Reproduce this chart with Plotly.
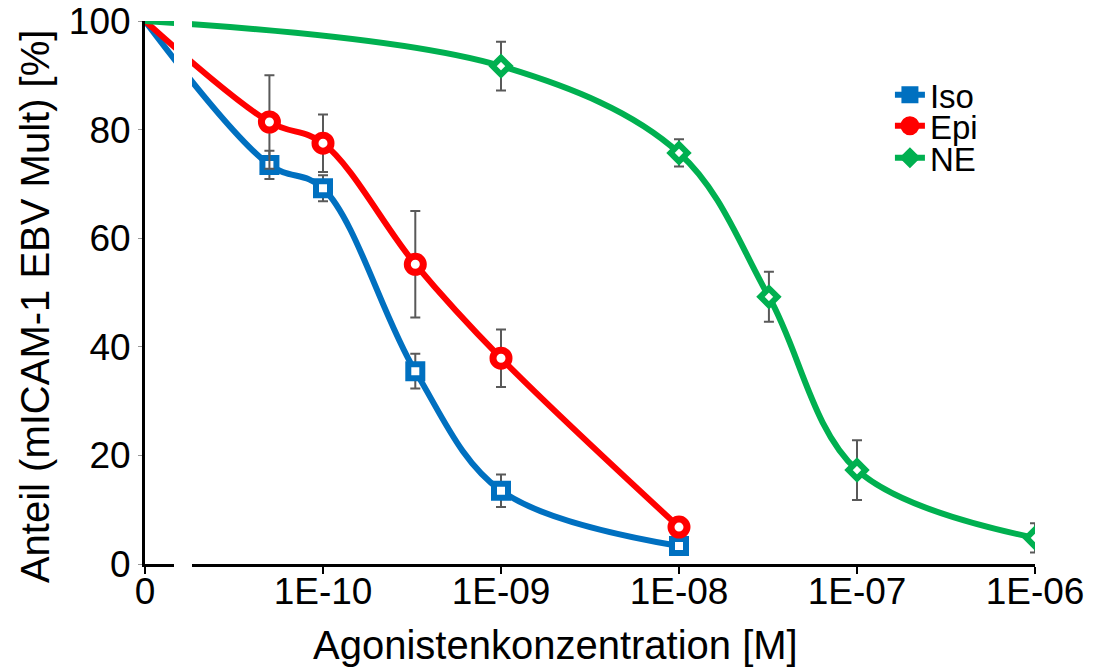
import plotly.graph_objects as go

# x = 1e-11 stands in for the "0" concentration (axis break)
iso_x = [1e-11, 5e-11, 1e-10, 3.3e-10, 1e-9, 1e-8]
iso_y = [100, 73.5, 69.2, 35.5, 13.5, 3.3]
iso_err = [0, 2.6, 2.4, 3.2, 3.0, 0.8]

epi_x = [1e-11, 5e-11, 1e-10, 3.3e-10, 1e-9, 1e-8]
epi_y = [100, 81.4, 77.5, 55.2, 37.9, 6.8]
epi_err = [0, 8.6, 5.3, 9.8, 5.3, 0.8]

ne_x = [1e-11, 1e-9, 1e-8, 3.2e-8, 1e-7, 1e-6]
ne_y = [100, 91.7, 75.7, 49.2, 17.3, 4.8]
ne_err = [0, 4.5, 2.5, 4.6, 5.5, 2.7]

tick_vals = [1e-11, 1e-10, 1e-9, 1e-8, 1e-7, 1e-6]
tick_text = ["0", "1E-10", "1E-09", "1E-08", "1E-07", "1E-06"]
y_ticks = [0, 20, 40, 60, 80, 100]

x_title = "Agonistenkonzentration [M]"
y_title = "Anteil (mICAM-1 EBV Mult) [%]"

FONT = "Liberation Sans, Arial, sans-serif"
ERRC = "#595959"
FS_TITLE = 40
FS_TICK = 37
FS_LEG = 33

series = [
    ("Iso", iso_x, iso_y, iso_err, "#0070C0", "square", 14, 6, "legend", 0.864),
    ("Epi", epi_x, epi_y, epi_err, "#FF0000", "circle", 16, 7, "legend2", 0.807),
    ("NE", ne_x, ne_y, ne_err, "#00B050", "diamond", 13, 6, "legend3", 0.748),
]

fig = go.Figure()
legends = {}
for name, xs, ys, es, col, sym, msz, mlw, leg, ly in series:
    fig.add_trace(go.Scatter(
        x=xs, y=ys, mode="lines", line=dict(color=col, width=6, shape="spline", smoothing=1),
        showlegend=False, hoverinfo="skip"))
    fig.add_trace(go.Scatter(
        x=xs[1:], y=ys[1:], mode="markers",
        marker=dict(symbol=sym, size=msz, color="white", line=dict(color=col, width=mlw)),
        error_y=dict(type="data", array=es[1:], color=ERRC, thickness=2, width=5),
        showlegend=False))
    fig.add_trace(go.Scatter(
        x=[None], y=[None], mode="lines+markers", name=name, legend=leg,
        line=dict(color=col, width=6),
        marker=dict(symbol=sym, size=msz, color=col, line=dict(color=col, width=3))))
    legends[leg] = dict(x=0.837, y=ly, xanchor="left", yanchor="middle",
                        bgcolor="rgba(0,0,0,0)", font=dict(family=FONT, size=FS_LEG, color="black"),
                        itemwidth=30, borderwidth=0)

# axis break
fig.add_shape(type="rect", xref="paper", yref="paper",
              x0=(174 - 145) / 890, x1=(192 - 145) / 890, y0=-0.03, y1=1.02,
              fillcolor="white", line=dict(width=0), layer="above")

# axis titles
fig.add_annotation(text=x_title, xref="paper", yref="paper", x=0.461, y=-0.149,
                   xanchor="center", yanchor="middle", showarrow=False,
                   font=dict(family=FONT, size=FS_TITLE, color="black"))
fig.add_annotation(text=y_title, xref="paper", yref="paper", x=-0.1236, y=0.475,
                   xanchor="center", yanchor="middle", showarrow=False, textangle=-90,
                   font=dict(family=FONT, size=FS_TITLE, color="black"))

fig.update_layout(
    width=1119, height=670,
    margin=dict(l=145, r=84, t=21, b=106),
    paper_bgcolor="white", plot_bgcolor="white",
    font=dict(family=FONT, size=FS_TICK, color="black"),
    xaxis=dict(type="log", range=[-11, -6], tickvals=tick_vals, ticktext=tick_text,
               showgrid=False, zeroline=False, showline=True, linecolor="black", linewidth=3,
               ticks="outside", ticklen=7, tickwidth=2, tickcolor="black",
               ticklabelstandoff=-14, automargin=False,
               tickfont=dict(size=FS_TICK)),
    yaxis=dict(range=[0, 100], tickvals=y_ticks,
               showgrid=False, zeroline=False, showline=True, linecolor="black", linewidth=3,
               ticks="outside", ticklen=4, tickwidth=1, tickcolor="#999999",
               automargin=False,
               tickfont=dict(size=FS_TICK)),
    **legends,
)

fig.write_html("out.html")
